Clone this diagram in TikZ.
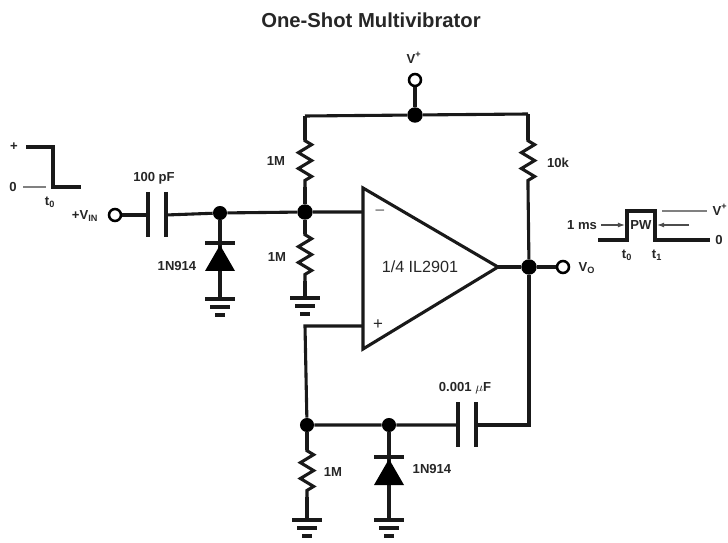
\documentclass[tikz,border=0pt]{standalone}
\usepackage{fontspec}
\setmainfont{Liberation Sans}
\usetikzlibrary{decorations.pathmorphing,arrows.meta}
\tikzset{
	wire/.style={line width=2.2pt,black!90},
	thinwire/.style={line width=0.8pt,black!50},
	res/.style={wire,decorate,decoration={zigzag,segment length=11.3pt,amplitude=4.7pt,pre length=0.5pt,post length=0.5pt}},
	lbl/.style={font=\fontsize{9.3}{10}\selectfont\bfseries,inner sep=0pt,black!85},
	dot/.style={circle,fill=black,inner sep=0pt,minimum size=11pt},
	sdot/.style={circle,fill=black,inner sep=0pt,minimum size=10pt},
	term/.style={circle,draw=black,line width=1.8pt,fill=white,inner sep=0pt,minimum size=8.5pt},
	tip/.style={-{Latex[length=5pt,width=3.5pt]},line width=0.8pt,black!70},
}
\newcommand{\gnd}[1]{
	\draw[wire] (#1) ++(-15,0) -- ++(30,0);
	\draw[wire] (#1) ++(-10,8) -- ++(20,0);
	\draw[wire] (#1) ++(-5,16) -- ++(10,0);
}
\newcommand{\diode}[1]{
	\draw[wire] (#1) ++(-15,0) -- ++(30,0);
	\fill (#1) ++(0,2) -- ++(15,26) -- ++(-30,0) -- cycle;
}
\begin{document}
\begin{tikzpicture}[x=0.025cm,y=-0.025cm]
	\useasboundingbox (0,0) rectangle (728,543);

	\node[font=\fontsize{14.4}{15}\selectfont\bfseries,inner sep=0pt,black!85] (title) at (371,20) {One-Shot Multivibrator};

	% op amp
	\draw[wire] (363,188) -- (498,267) -- (363,349) -- cycle;
	\node[font=\fontsize{11.5}{12}\selectfont,inner sep=0pt,black!85] (ampname) at (420,267) {1/4 IL2901};
	\node[font=\fontsize{11}{11}\selectfont,inner sep=0pt,black!70] (minus) at (380,212) {--};
	\node[font=\fontsize{12}{12}\selectfont,inner sep=0pt,black!85] (plus) at (378,325) {+};
	\coordinate (inm) at (363,212);
	\coordinate (inp) at (363,326);
	\coordinate (outp) at (498,267);

	% junctions and terminals
	\node[dot] (vdot) at (415,115) {};
	\node[term] (vplus) at (415,80) {};
	\node[lbl] (vplusl) at (414,58) {V\textsuperscript{+}};
	\node[dot] (adot) at (305,212) {};
	\node[sdot] (bdot) at (220,213) {};
	\node[dot] (odot) at (529,267) {};
	\node[term] (vout) at (563,267) {};
	\node[lbl] (voutl) at (587,268) {V\textsubscript{O}};
	\node[term] (vin) at (115,215) {};
	\node[lbl] (vinl) at (85,216) {+V\textsubscript{IN}};
	\node[sdot] (cdot) at (307,425) {};
	\node[sdot] (ddot) at (389,425) {};

	% supply rail
	\coordinate (tl) at (305,116);
	\coordinate (tr) at (528,114);
	\draw[wire] (vplus) -- (vdot);
	\draw[wire] (tl) -- (vdot) -- (tr);

	% resistors
	\coordinate (r1a) at (305,140);
	\coordinate (r1b) at (305,187);
	\coordinate (r2a) at (305,234);
	\coordinate (r2b) at (305,281);
	\coordinate (r3a) at (528,140);
	\coordinate (r3b) at (528,187);
	\coordinate (r4a) at (307,450);
	\coordinate (r4b) at (307,497);
	\draw[wire] (tl) -- (r1a);
	\draw[res] (r1a) -- (r1b);
	\draw[wire] (r1b) -- (adot);
	\draw[wire] (adot) -- (r2a);
	\draw[res] (r2a) -- (r2b);
	\coordinate (g1) at (305,298);
	\draw[wire] (r2b) -- (g1);
	\gnd{g1}
	\draw[wire] (tr) -- (r3a);
	\draw[res] (r3a) -- (r3b);
	\draw[wire] (r3b) -- (odot);
	\draw[wire] (cdot) -- (r4a);
	\draw[res] (r4a) -- (r4b);
	\coordinate (g2) at (307,520);
	\draw[wire] (r4b) -- (g2);
	\gnd{g2}

	% input
	\coordinate (c1a) at (148,215);
	\coordinate (c1b) at (166,215);
	\draw[wire] (vin) -- (c1a);
	\draw[wire] (148,192) -- (148,237);
	\draw[wire] (166,192) -- (166,237);
	\draw[wire] (c1b) -- (bdot) -- (adot) -- (inm);
	\coordinate (d1) at (220,243);
	\coordinate (g3) at (220,299);
	\draw[wire] (bdot) -- (g3);
	\diode{d1}
	\gnd{g3}

	% output and feedback
	\coordinate (fbr) at (529,425);
	\coordinate (c2a) at (458,425);
	\coordinate (c2b) at (476,425);
	\coordinate (pl) at (305,326);
	\draw[wire] (outp) -- (odot) -- (vout);
	\draw[wire] (odot) -- (fbr) -- (c2b);
	\draw[wire] (458,402) -- (458,447);
	\draw[wire] (476,402) -- (476,447);
	\draw[wire] (c2a) -- (ddot) -- (cdot) -- (pl) -- (inp);
	\coordinate (d2) at (389,457);
	\coordinate (g4) at (389,520);
	\draw[wire] (ddot) -- (g4);
	\diode{d2}
	\gnd{g4}

	% values
	\node[lbl] (r1l) at (276,161) {1M};
	\node[lbl] (r2l) at (277,257) {1M};
	\node[lbl] (r3l) at (558,163) {10k};
	\node[lbl] (r4l) at (333,472) {1M};
	\node[lbl] (c1l) at (154,178) {100 pF};
	\node[lbl] (c2l) at (465,388) {0.001 $\mu$F};
	\node[lbl] (d1l) at (177,266) {1N914};
	\node[lbl] (d2l) at (432,469) {1N914};

	% input pulse
	\coordinate (pa) at (26,147);
	\coordinate (pb) at (53,147);
	\coordinate (pc) at (53,187);
	\coordinate (pd) at (81,187);
	\coordinate (pe) at (23,187);
	\coordinate (pf) at (46,187);
	\draw[wire] (pa) -- (pb) -- (pc) -- (pd);
	\draw[thinwire] (pe) -- (pf);
	\node[lbl] (pplus) at (14,147) {+};
	\node[lbl] (pzero) at (13,187) {0};
	\node[lbl] (pt) at (50,202) {t\textsubscript{0}};

	% output pulse
	\coordinate (qa) at (598,240);
	\coordinate (qb) at (627,240);
	\coordinate (qc) at (627,211);
	\coordinate (qd) at (655,211);
	\coordinate (qe) at (655,240);
	\coordinate (qf) at (710,240);
	\coordinate (qg) at (662,211);
	\coordinate (qh) at (707,211);
	\draw[wire] (qa) -- (qb) -- (qc) -- (qd) -- (qe) -- (qf);
	\draw[thinwire] (qg) -- (qh);
	\node[lbl] (qv) at (720,210) {V\textsuperscript{+}};
	\node[lbl] (qz) at (719,240) {0};
	\node[lbl] (qms) at (582,225) {1 ms};
	\node[lbl] (qpw) at (641,225) {PW};
	\node[lbl] (qt) at (627,255) {t\textsubscript{0}};
	\node[lbl] (qu) at (657,255) {t\textsubscript{1}};
	\coordinate (ar1) at (601,225);
	\coordinate (ar2) at (625,225);
	\coordinate (ar3) at (689,225);
	\coordinate (ar4) at (657,225);
	\draw[tip] (ar1) -- (ar2);
	\draw[tip] (ar3) -- (ar4);
\end{tikzpicture}
\end{document}
